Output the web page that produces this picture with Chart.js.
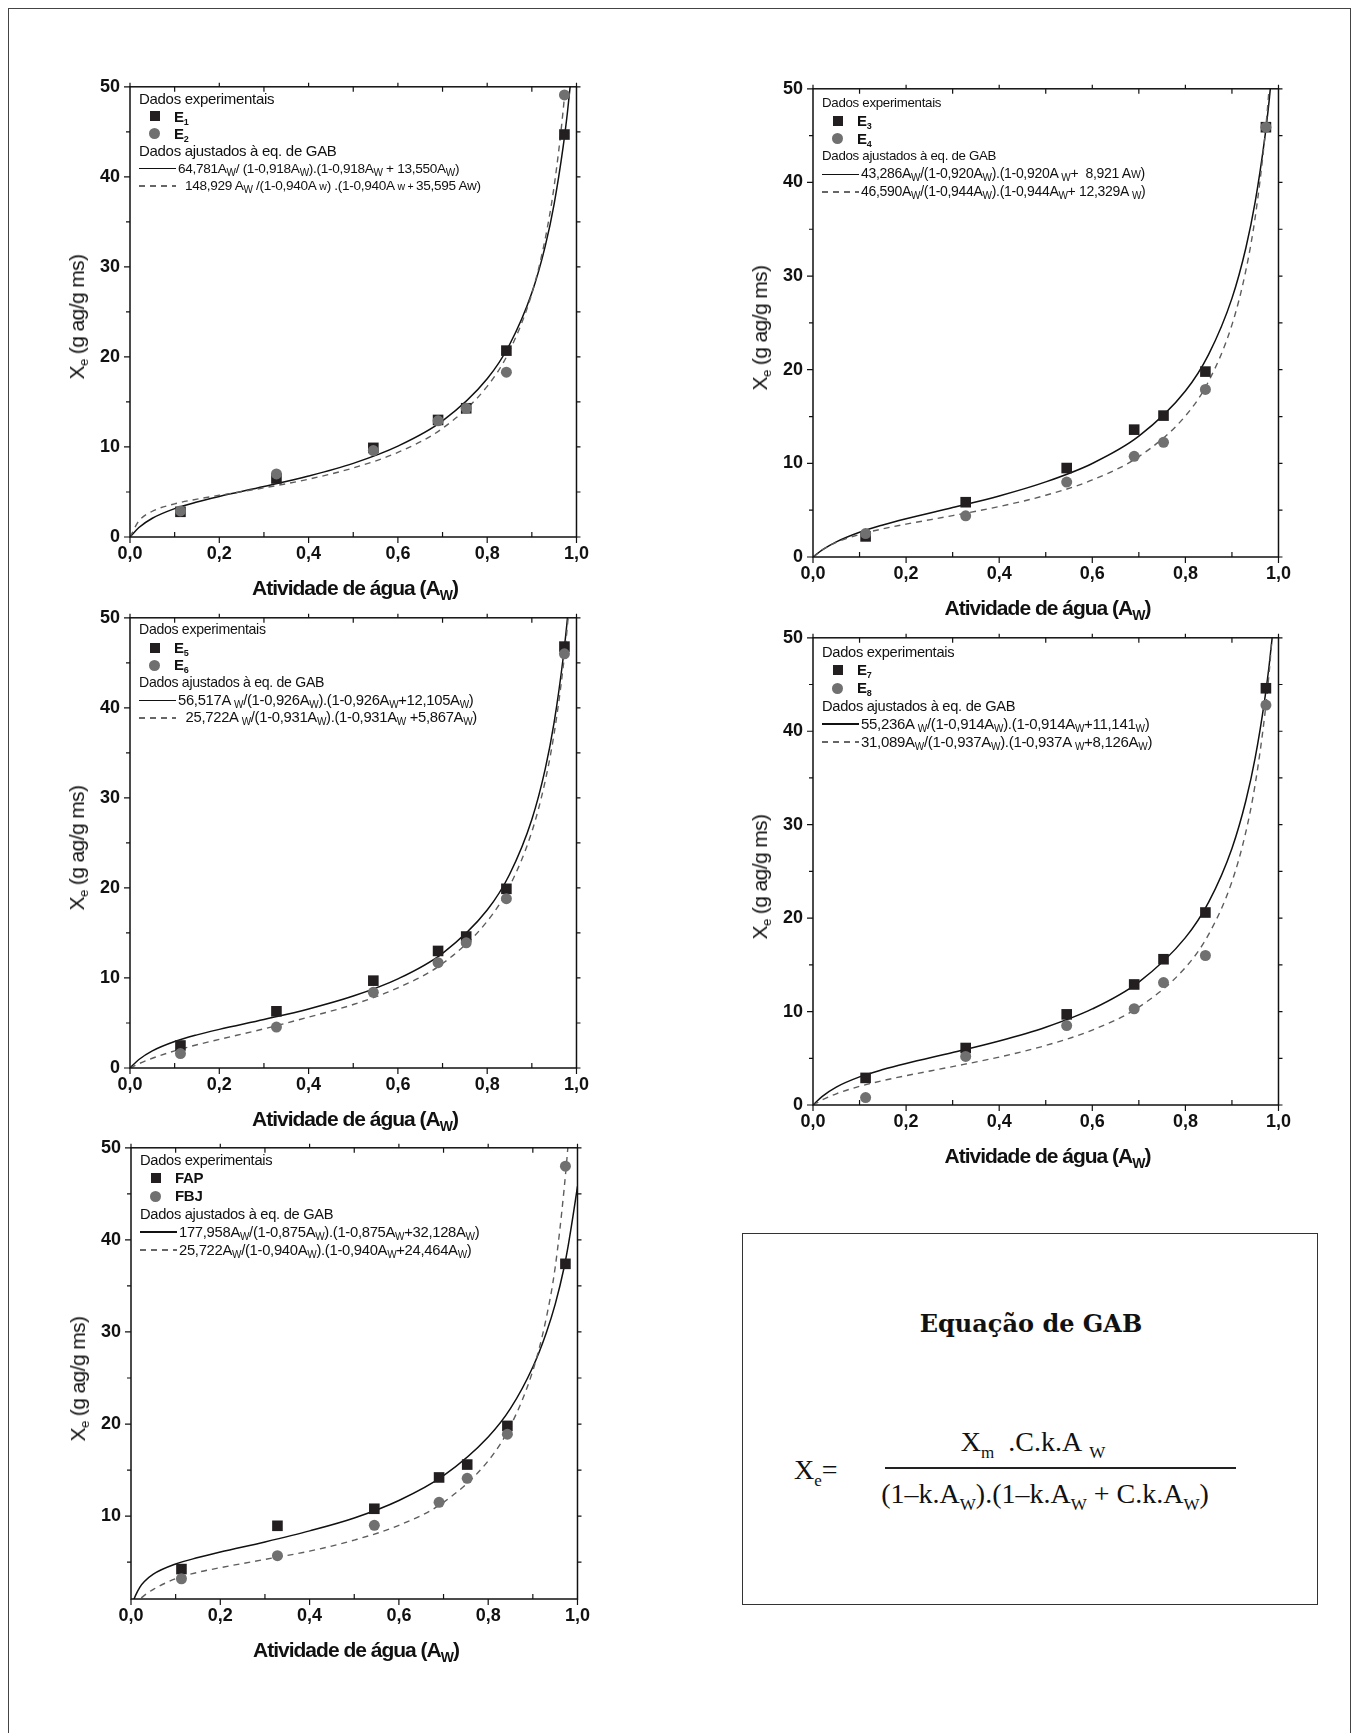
<!DOCTYPE html>
<html lang="pt">
<head>
<meta charset="utf-8">
<title>Isotermas de sorção - equação de GAB</title>
<script src="https://cdn.jsdelivr.net/npm/chart.js@4.4.1/dist/chart.umd.min.js"></script>
<style>
  html, body { margin: 0; padding: 0; background: #fff; }
  body { width: 1360px; height: 1733px; position: relative; overflow: hidden;
         font-family: "Liberation Sans", Arial, sans-serif; color: #111; }
  .moldura { position: absolute; left: 8px; top: 8px; width: 1341px; height: 1760px; border: 1.5px solid #444; }
  .box { position: absolute; }
  .box canvas { display: block; }
  .leg { position: absolute; white-space: nowrap; letter-spacing: -0.3px; }
  .leg sub { font-size: 10px; line-height: 0; vertical-align: -3px; }
  .leg small { font-size: 10.5px; }
  .leg .row { display: flex; align-items: center; }
  .leg b { font-size: 15px; }
  .leg b sub { font-size: 9px; }
  .sq { width: 10px; height: 10px; background: #231f20; margin-left: 11px; margin-right: 14px; }
  .ci { width: 11px; height: 11px; border-radius: 50%; background: #707070; margin-left: 10px; margin-right: 14px; }
  .ln { width: 37px; height: 1.3px; background: #111; margin-right: 2px; }
  .ln.tr { background: repeating-linear-gradient(to right, #666 0 6px, transparent 6px 11px); }
  .ytit { position: absolute; font-size: 21px; white-space: nowrap; letter-spacing: -0.6px;
          transform: translate(-50%, -50%) rotate(-90deg); }
  .ytit sub { font-size: 13px; line-height: 0; vertical-align: -4px; }
  .xtit { position: absolute; font-size: 21px; font-weight: bold; white-space: nowrap; letter-spacing: -1px;
          transform: translate(-50%, -50%); }
  .xtit sub { font-size: 14px; line-height: 0; vertical-align: -5px; }
  .eqbox { position: absolute; left: 742px; top: 1233px; width: 574px; height: 370px; border: 1.5px solid #333; }
  .eqbox div { position: absolute; white-space: nowrap; font-family: "Liberation Serif", "DejaVu Serif", serif; font-size: 28px; }
  .eqbox sub { font-size: 17px; line-height: 0; vertical-align: -7px; }
  .eqtit { font-family: "DejaVu Serif", serif !important; font-weight: bold; font-size: 24px !important; }
</style>
</head>
<body>
<div class="moldura"></div>

<div class="eqbox">
  <div class="eqtit" style="left:288px; top:89px; transform:translate(-50%,-50%);">Equação de GAB</div>
  <div style="left:51px; top:236px; transform:translateY(-50%);">X<sub>e</sub>=</div>
  <div style="left:290px; top:208px; transform:translate(-50%,-50%);">X<sub>m</sub>&nbsp; .C.k.A&nbsp;<sub>W</sub></div>
  <div style="left:142px; top:233px; width:351px; height:1.5px; background:#222;"></div>
  <div style="left:302px; top:260px; transform:translate(-50%,-50%);">(1–k.A<sub>W</sub>).(1–k.A<sub>W</sub> + C.k.A<sub>W</sub>)</div>
</div>

<script>
// Atividade de água das soluções salinas
const aw = [0.113, 0.328, 0.545, 0.690, 0.753, 0.843, 0.973];

// Dados experimentais (X_e, g ag/g ms)
const e1 = [2.8, 6.5, 9.9, 13.0, 14.3, 20.7, 44.7];
const e2 = [2.9, 7.0, 9.6, 12.9, 14.3, 18.3, 49.1];
const e3 = [2.2, 5.85, 9.5, 13.6, 15.1, 19.8, 45.9];
const e4 = [2.5, 4.4, 8.0, 10.75, 12.25, 17.9, 45.9];
const e5 = [2.5, 6.3, 9.7, 13.0, 14.6, 19.9, 46.8];
const e6 = [1.6, 4.55, 8.4, 11.7, 13.9, 18.8, 46.0];
const e7 = [2.9, 6.1, 9.7, 12.9, 15.6, 20.6, 44.6];
const e8 = [0.8, 5.2, 8.5, 10.3, 13.1, 16.0, 42.8];
const fap = [4.25, 8.95, 10.8, 14.2, 15.6, 19.8, 37.4];
const fbj = [3.2, 5.7, 9.0, 11.5, 14.1, 18.9, 48.0];

// Curvas ajustadas
const curvaAw = [0, 0.02, 0.05, 0.1, 0.15, 0.2, 0.3, 0.4, 0.5, 0.6, 0.7, 0.8, 0.85, 0.9, 0.93, 0.95, 0.97, 0.98, 0.99];
const ajE1 = [0, 1.05, 2.08, 3.15, 3.89, 4.50, 5.60, 6.77, 8.18, 10.09, 12.89, 17.57, 21.35, 27.12, 32.31, 37.01, 43.29, 47.28, 52.08];
const ajE2 = [0, 1.79, 2.86, 3.68, 4.20, 4.63, 5.46, 6.42, 7.67, 9.40, 12.07, 16.73, 20.68, 27.04, 33.13, 38.98, 47.32, 52.98, 60.2];
const ajE3 = [0, 0.76, 1.62, 2.65, 3.42, 4.08, 5.28, 6.52, 8.02, 9.99, 12.90, 17.72, 21.64, 27.62, 33.03, 37.95, 44.54, 48.76, 53.9];
const ajE4 = [0, 0.77, 1.56, 2.41, 3.01, 3.51, 4.42, 5.39, 6.59, 8.23, 10.72, 15.06, 18.77, 24.79, 30.63, 36.30, 44.50, 50.16, 57.4];
const ajE5 = [0, 0.94, 1.90, 2.94, 3.68, 4.29, 5.39, 6.56, 7.99, 9.90, 12.74, 17.54, 21.49, 27.60, 33.22, 38.41, 45.48, 50.07, 55.7];
const ajE6 = [0, 0.48, 1.08, 1.90, 2.58, 3.18, 4.35, 5.65, 7.05, 8.90, 11.60, 16.29, 20.17, 26.24, 31.89, 37.17, 44.47, 49.29, 55.24];
const ajE7 = [0, 0.93, 1.92, 3.01, 3.79, 4.44, 5.61, 6.84, 8.32, 10.28, 13.16, 17.91, 21.71, 27.46, 32.59, 37.18, 43.26, 47.09, 51.67];
const ajE8 = [0, 0.55, 1.20, 2.00, 2.61, 3.14, 4.11, 5.13, 6.37, 8.02, 10.48, 14.71, 18.26, 23.90, 29.25, 34.34, 41.51, 46.33, 52.39];

const curvaAwF = [0.005, 0.01, 0.02, 0.03, 0.05, 0.1, 0.15, 0.2, 0.3, 0.4, 0.5, 0.6, 0.7, 0.8, 0.85, 0.9, 0.93, 0.95, 0.97, 0.98, 0.99, 1.0];
const ajFap = [0.77, 1.37, 2.3, 2.9, 3.7, 4.8, 5.5, 6.1, 7.2, 8.4, 9.8, 11.7, 14.4, 18.6, 21.7, 26.2, 29.9, 33.0, 37.0, 39.6, 42.6, 45.8];
const ajFbj = [0.3, 0.55, 1.0, 1.4, 2.05, 3.2, 3.9, 4.4, 5.3, 6.2, 7.4, 9.0, 11.5, 16.0, 19.8, 25.8, 31.5, 37.0, 45.5, 51.0, 58.0, 66.0];

// Marcas dos eixos
const xTicks = [0, 0.2, 0.4, 0.6, 0.8, 1.0];
const xMinor = [0.1, 0.3, 0.5, 0.7, 0.9];
const yTicks = [0, 10, 20, 30, 40, 50];
const yTicksF = [10, 20, 30, 40, 50];
const yMinor = [5, 15, 25, 35, 45];

const pontos = (xs, ys) => xs.map((x, i) => ({ x: x, y: ys[i] }));

// Moldura do gráfico com marcas principais e secundárias
const moldura = {
  id: 'moldura',
  afterDatasetsDraw(chart, args, opts) {
    const { ctx, chartArea: a, scales: { x, y } } = chart;
    ctx.save();
    ctx.strokeStyle = '#111';
    ctx.lineWidth = 1.5;
    ctx.strokeRect(a.left, a.top, a.right - a.left, a.bottom - a.top);
    ctx.lineWidth = 1.2;
    ctx.beginPath();
    xTicks.forEach(v => {
      const px = x.getPixelForValue(v);
      ctx.moveTo(px, a.bottom); ctx.lineTo(px, a.bottom + 6);
      ctx.moveTo(px, a.top); ctx.lineTo(px, a.top - 4);
    });
    xMinor.forEach(v => {
      const px = x.getPixelForValue(v);
      ctx.moveTo(px, a.bottom); ctx.lineTo(px, a.bottom - 5);
      ctx.moveTo(px, a.top); ctx.lineTo(px, a.top + 5);
    });
    opts.yMajor.forEach(v => {
      const py = y.getPixelForValue(v);
      ctx.moveTo(a.left, py); ctx.lineTo(a.left - 6, py);
      ctx.moveTo(a.right, py); ctx.lineTo(a.right + 4, py);
    });
    yMinor.forEach(v => {
      const py = y.getPixelForValue(v);
      ctx.moveTo(a.left, py); ctx.lineTo(a.left - 4, py);
      ctx.moveTo(a.right, py); ctx.lineTo(a.right + 4, py);
    });
    ctx.stroke();
    ctx.restore();
  }
};

const fonteTicks = { family: 'Liberation Sans', size: 18, weight: 'bold' };

function criaGrafico(p) {
  const W = p.w + 75, H = p.h + 55;
  const box = document.createElement('div');
  box.className = 'box';
  box.style.left = (p.left - 60) + 'px';
  box.style.top = (p.top - 15) + 'px';
  const cv = document.createElement('canvas');
  cv.width = W; cv.height = H;
  box.appendChild(cv);
  document.body.appendChild(box);

  new Chart(cv.getContext('2d'), {
    type: 'scatter',
    data: {
      datasets: [
        { data: pontos(aw, p.circ), pointStyle: 'circle', pointRadius: 5.5, pointHoverRadius: 5.5,
          backgroundColor: '#707070', borderWidth: 0, order: 0, clip: false },
        { data: pontos(aw, p.quad), pointStyle: 'rect', pointRadius: 7.5, pointHoverRadius: 7.5,
          backgroundColor: '#231f20', borderWidth: 0, order: 1, clip: false },
        { data: pontos(p.cx, p.trac), showLine: true, pointRadius: 0, borderColor: '#5e5e5e', borderWidth: 1.4,
          borderDash: [6, 5], cubicInterpolationMode: 'monotone', order: 2, clip: 0 },
        { data: pontos(p.cx, p.cont), showLine: true, pointRadius: 0, borderColor: '#111', borderWidth: 1.5,
          cubicInterpolationMode: 'monotone', order: 3, clip: 0 }
      ]
    },
    options: {
      responsive: false,
      animation: false,
      devicePixelRatio: 1,
      events: [],
      layout: { padding: { left: 0, top: 15, right: 15, bottom: 0 } },
      plugins: {
        legend: { display: false },
        tooltip: { enabled: false },
        moldura: { yMajor: p.yt }
      },
      scales: {
        x: {
          type: 'linear', min: 0, max: 1,
          grid: { display: false, drawTicks: false },
          border: { display: false },
          afterBuildTicks: s => { s.ticks = xTicks.map(v => ({ value: v })); },
          afterFit: s => { s.height = 40; },
          ticks: { padding: 6, maxRotation: 0, autoSkip: false, color: '#111', font: fonteTicks,
                   callback: v => v.toFixed(1).replace('.', ',') }
        },
        y: {
          type: 'linear', min: p.ymin, max: 50,
          grid: { display: false, drawTicks: false },
          border: { display: false },
          afterBuildTicks: s => { s.ticks = p.yt.map(v => ({ value: v })); },
          afterFit: s => { s.width = 60; },
          ticks: { padding: 10, autoSkip: false, color: '#111', font: fonteTicks, callback: v => String(v) }
        }
      }
    },
    plugins: [moldura]
  });

  // Legenda (texto com subscritos)
  const leg = document.createElement('div');
  leg.className = 'leg';
  leg.style.left = (p.left + 9) + 'px';
  leg.style.top = (p.top + p.legTop - p.lh / 2) + 'px';
  leg.style.fontSize = p.fs + 'px';
  leg.style.lineHeight = p.lh + 'px';
  const h = 'style="height:' + p.lh + 'px"';
  const fe = 'style="font-size:' + p.fe + 'px"';
  leg.innerHTML =
    '<div>Dados experimentais</div>' +
    '<div class="row" ' + h + '><i class="sq"></i><b>' + p.nomes[0] + '</b></div>' +
    '<div class="row" ' + h + '><i class="ci"></i><b>' + p.nomes[1] + '</b></div>' +
    '<div>Dados ajustados à eq. de GAB</div>' +
    '<div class="row" ' + h + '><i class="ln"></i><span ' + fe + '>' + p.eqs[0] + '</span></div>' +
    '<div class="row" ' + h + '><i class="ln tr"></i><span ' + fe + '>' + p.eqs[1] + '</span></div>';
  document.body.appendChild(leg);

  // Títulos dos eixos
  const yt = document.createElement('div');
  yt.className = 'ytit';
  yt.style.left = (p.left - 53) + 'px';
  yt.style.top = (p.top + p.h / 2 + 8) + 'px';
  yt.innerHTML = 'X<sub>e</sub> (g ag/g ms)';
  document.body.appendChild(yt);

  const xt = document.createElement('div');
  xt.className = 'xtit';
  xt.style.left = (p.left + p.w / 2) + 'px';
  xt.style.top = (p.top + p.h + 51) + 'px';
  xt.innerHTML = 'Atividade de água (A<sub>W</sub>)';
  document.body.appendChild(xt);
}

const W = '<sub>W</sub>';
const paineis = [
  { left: 130, top: 81, w: 450, h: 456, quad: e1, circ: e2, cx: curvaAw, cont: ajE1, trac: ajE2, ymin: 0, yt: yTicks,
    legTop: 18, lh: 17.4, fs: 15, fe: 13.6, nomes: ['E<sub>1</sub>', 'E<sub>2</sub>'],
    eqs: ['64,781A' + W + '/ (1-0,918A' + W + ').(1-0,918A' + W + ' + 13,550A' + W + ')',
          '&nbsp; 148,929 A' + W + '&nbsp;/(1-0,940A <small>w</small>) .(1-0,940A <small>w + </small>35,595 Aw)'] },
  { left: 813, top: 83, w: 469, h: 474, quad: e3, circ: e4, cx: curvaAw, cont: ajE3, trac: ajE4, ymin: 0, yt: yTicks,
    legTop: 20, lh: 17.8, fs: 13.3, fe: 14, nomes: ['E<sub>3</sub>', 'E<sub>4</sub>'],
    eqs: ['43,286A' + W + '/(1-0,920A' + W + ').(1-0,920A ' + W + '+&nbsp; 8,921 A<small>W</small>)',
          ' 46,590A' + W + '/(1-0,944A' + W + ').(1-0,944A' + W + '+ 12,329A ' + W + ')'] },
  { left: 130, top: 612, w: 450, h: 456, quad: e5, circ: e6, cx: curvaAw, cont: ajE5, trac: ajE6, ymin: 0, yt: yTicks,
    legTop: 18, lh: 17.6, fs: 14.1, fe: 14.8, nomes: ['E<sub>5</sub>', 'E<sub>6</sub>'],
    eqs: ['56,517A ' + W + '/(1-0,926A' + W + ').(1-0,926A' + W + '+12,105A' + W + ')',
          '&nbsp; 25,722A ' + W + '/(1-0,931A' + W + ').(1-0,931A' + W + ' +5,867A' + W + ')'] },
  { left: 813, top: 632, w: 469, h: 473, quad: e7, circ: e8, cx: curvaAw, cont: ajE7, trac: ajE8, ymin: 0, yt: yTicks,
    legTop: 20, lh: 18, fs: 14.7, fe: 15, nomes: ['E<sub>7</sub>', 'E<sub>8</sub>'],
    eqs: ['55,236A ' + W + '/(1-0,914A' + W + ').(1-0,914A' + W + '+11,141' + W + ')',
          ' 31,089A' + W + '/(1-0,937A' + W + ').(1-0,937A ' + W + '+8,126A' + W + ')'] },
  { left: 131, top: 1142, w: 450, h: 457, quad: fap, circ: fbj, cx: curvaAwF, cont: ajFap, trac: ajFbj, ymin: 1, yt: yTicksF,
    legTop: 18, lh: 18, fs: 14.7, fe: 14.8, nomes: ['FAP', 'FBJ'],
    eqs: ['177,958A' + W + '/(1-0,875A' + W + ').(1-0,875A' + W + '+32,128A' + W + ')',
          ' 25,722A' + W + '/(1-0,940A' + W + ').(1-0,940A' + W + '+24,464A' + W + ')'] }
];

document.addEventListener('DOMContentLoaded', () => {
  paineis.forEach(criaGrafico);
});
</script>
</body>
</html>
